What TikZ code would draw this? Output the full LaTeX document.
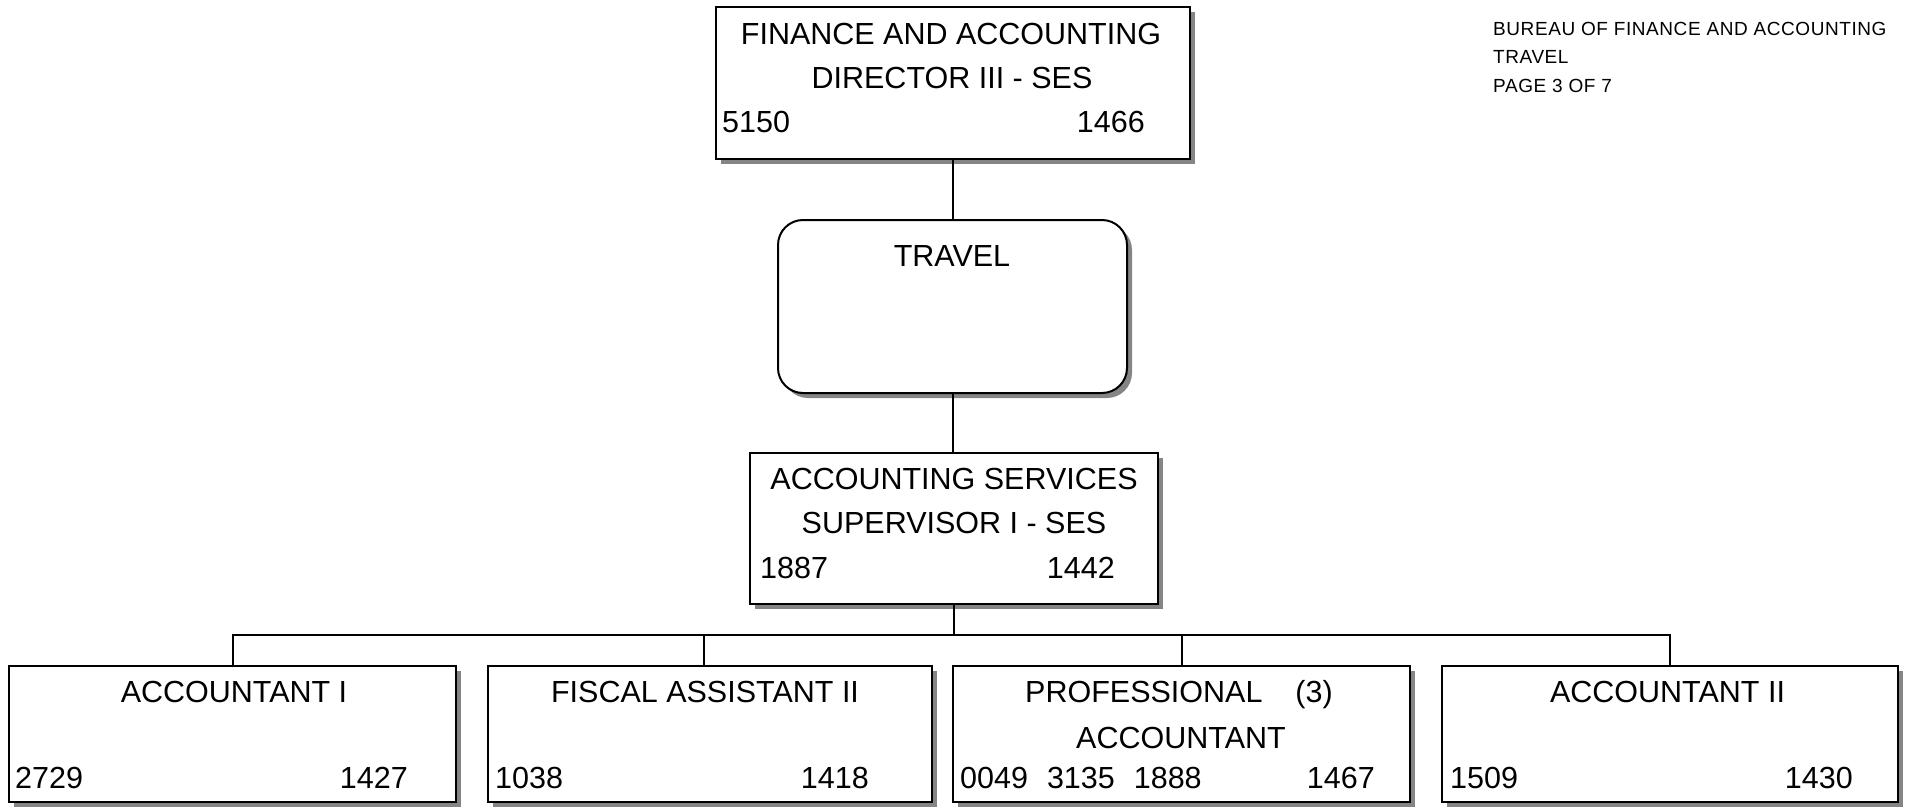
\documentclass[tikz,border=0pt]{standalone}
\usepackage{fontspec}
\setmainfont{Liberation Sans}
\newfontfamily\headfont[LetterSpace=3]{Liberation Sans}
\usetikzlibrary{shadows}

\begin{document}
\begin{tikzpicture}[x=1pt, y=-1pt,
  orgbox/.style={draw, line width=2pt, fill=white, inner sep=0pt,
    drop shadow={shadow xshift=5pt, shadow yshift=-5pt, fill=black!48, opacity=1}},
  unitbox/.style={orgbox, rounded corners=25pt},
  link/.style={line width=2pt},
  boxtext/.style={inner sep=0pt, font=\fontsize{30.5}{36}\selectfont},
  headtext/.style={inner sep=0pt, anchor=base west, font=\headfont\fontsize{19}{23}\selectfont}
]
\useasboundingbox (0,0) rectangle (1911,806);

% boxes
\node[orgbox, minimum width=474pt, minimum height=152pt] (director) at (953,83) {};
\node[unitbox, minimum width=349pt, minimum height=173pt] (travel) at (952.5,306.5) {};
\node[orgbox, minimum width=408pt, minimum height=151pt] (supervisor) at (954,528.5) {};
\node[orgbox, minimum width=447pt, minimum height=136pt] (acct1) at (232.5,734) {};
\node[orgbox, minimum width=444pt, minimum height=136pt] (fiscal) at (710,734) {};
\node[orgbox, minimum width=457pt, minimum height=136pt] (prof) at (1181.5,734) {};
\node[orgbox, minimum width=456pt, minimum height=136pt] (acct2) at (1670,734) {};

% connectors
\coordinate (bus) at (954,635);
\draw[link] (director.south) -- (director.south |- travel.north);
\draw[link] (travel.south) -- (travel.south |- supervisor.north);
\draw[link] (supervisor.south) -- (supervisor.south |- bus);
\draw[link] (acct1.north) -- (acct1.north |- bus) -- (acct2.north |- bus) -- (acct2.north);
\draw[link] ([xshift=-6pt]fiscal.north) -- ([xshift=-6pt]fiscal.north |- bus);
\draw[link] (prof.north) -- (prof.north |- bus);

% director
\node[boxtext, anchor=base] (dirA) at (951,44) {FINANCE AND ACCOUNTING};
\node[boxtext, anchor=base] (dirB) at (952,88) {DIRECTOR III - SES};
\node[boxtext, anchor=base west] (dirL) at (722,132) {5150};
\node[boxtext, anchor=base east] (dirR) at (1145,132) {1466};

% travel
\node[boxtext, anchor=base] (travA) at (952,266) {TRAVEL};

% supervisor
\node[boxtext, anchor=base] (supA) at (954,489) {ACCOUNTING SERVICES};
\node[boxtext, anchor=base] (supB) at (954,533) {SUPERVISOR I - SES};
\node[boxtext, anchor=base west] (supL) at (760,578) {1887};
\node[boxtext, anchor=base east] (supR) at (1115,578) {1442};

% accountant I
\node[boxtext, anchor=base] (a1A) at (234,702) {ACCOUNTANT I};
\node[boxtext, anchor=base west] (a1L) at (15,788) {2729};
\node[boxtext, anchor=base east] (a1R) at (408,788) {1427};

% fiscal assistant II
\node[boxtext, anchor=base] (fiA) at (705,702) {FISCAL ASSISTANT II};
\node[boxtext, anchor=base west] (fiL) at (495,788) {1038};
\node[boxtext, anchor=base east] (fiR) at (869,788) {1418};

% professional accountant
\node[boxtext, anchor=base west] (prA) at (1025,702) {PROFESSIONAL\hspace{33pt}(3)};
\node[boxtext, anchor=base] (prB) at (1181,748) {ACCOUNTANT};
\node[boxtext, anchor=base west] (prL) at (960,788) {0049\hspace{19pt}3135\hspace{19pt}1888};
\node[boxtext, anchor=base east] (prR) at (1375,788) {1467};

% accountant II
\node[boxtext, anchor=base] (a2A) at (1667.5,702) {ACCOUNTANT II};
\node[boxtext, anchor=base west] (a2L) at (1450,788) {1509};
\node[boxtext, anchor=base east] (a2R) at (1853,788) {1430};

% page header
\node[headtext] (hdA) at (1493,35) {BUREAU OF FINANCE AND ACCOUNTING};
\node[headtext] (hdB) at (1493,63) {TRAVEL};
\node[headtext] (hdC) at (1493,92) {PAGE 3 OF 7};
\end{tikzpicture}
\end{document}
